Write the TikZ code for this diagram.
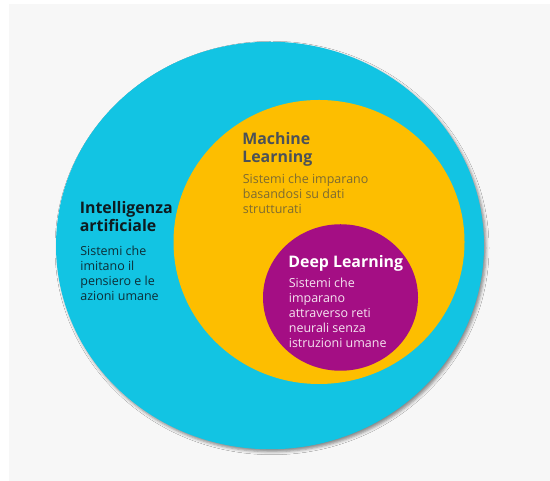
\documentclass[tikz,border=0pt]{standalone}
\usepackage{fontspec}
\setmainfont{Open Sans}
\usetikzlibrary{shapes.geometric, shadows.blur}
\definecolor{ccyan}{HTML}{12C4E3}
\definecolor{cyellow}{HTML}{FDBE00}
\definecolor{cpurple}{HTML}{A40E84}
\definecolor{cpaper}{HTML}{F7F7F7}
\definecolor{cink}{HTML}{0E1B20}
\definecolor{cinkai}{HTML}{0D2E37}
\definecolor{cslate}{HTML}{4B5158}
\definecolor{colive}{HTML}{7D6B32}
\definecolor{cpink}{HTML}{F5E4F0}
\tikzset{
  blob/.style={ellipse, fill=#1, draw=none, inner sep=0pt},
  head/.style={font=\fontsize{9.05pt}{10.5pt}\selectfont\bfseries, align=left, inner sep=0pt, anchor=north west},
  desc/.style={font=\fontsize{7.1pt}{8.55pt}\selectfont, align=left, inner sep=0pt, anchor=north west},
}
\begin{document}
\begin{tikzpicture}
  % sheet
  \useasboundingbox (0,0) rectangle (11,9.62);
  \fill[white] (0,0) rectangle (11,9.62);
  \fill[cpaper] (0.18,0) rectangle (11,9.54);
  % nested fields: AI > ML > DL
  \node[blob=ccyan, minimum width=8.56cm, minimum height=8.15cm,
    blur shadow={shadow xshift=0.04cm, shadow yshift=-0.05cm, shadow blur radius=0.06cm, shadow opacity=45}] (ai) at (5.40,4.71) {};
  \node[blob=cyellow, minimum width=5.82cm, minimum height=5.68cm] (ml) at (6.38,4.78) {};
  \node[blob=cpurple, minimum width=3.10cm, minimum height=2.93cm] (dl) at (6.81,3.67) {};
  % labels
  \node[head, text=cink] (aiHead) at (1.59,5.60) {Intelligenza\\artificiale};
  \node[desc, text=cinkai] (aiDesc) at (1.60,4.71) {Sistemi che\\imitano il\\pensiero e le\\azioni umane};
  \node[head, text=cslate] (mlHead) at (4.84,6.98) {Machine\\Learning};
  \node[desc, text=colive] (mlDesc) at (4.85,6.14) {Sistemi che imparano\\basandosi su dati\\strutturati};
  \node[head, text=white] (dlHead) at (5.76,4.51) {Deep Learning};
  \node[desc, text=cpink] (dlDesc) at (5.77,4.06) {Sistemi che\\imparano\\attraverso reti\\neurali senza\\istruzioni umane};
\end{tikzpicture}
\end{document}
